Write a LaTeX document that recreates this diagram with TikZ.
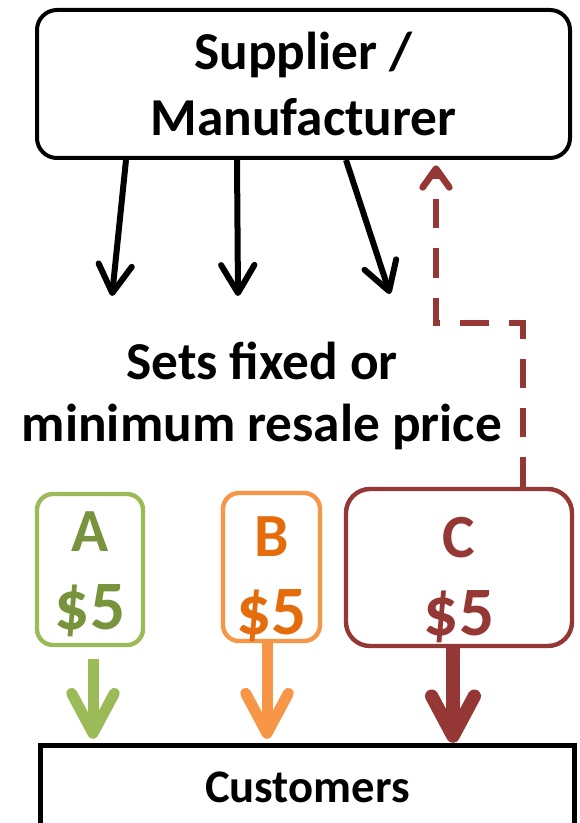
\documentclass[tikz,border=0pt]{standalone}
\usepackage{fontspec}
\setmainfont{Carlito}
\usetikzlibrary{arrows.meta,calc}
\definecolor{grnL}{HTML}{9BBB59}
\definecolor{grnT}{HTML}{77933C}
\definecolor{orgL}{HTML}{F79646}
\definecolor{orgT}{HTML}{E46C0A}
\definecolor{redC}{HTML}{953735}
\newcommand{\bigprice}{{\fontsize{52}{58.5}\selectfont\$5}}
\begin{document}
\begin{tikzpicture}[x=0.75pt,y=-0.75pt,
  supbox/.style={draw, line width=3pt, rounded corners=15pt, align=center, inner sep=0pt,
    font=\bfseries\fontsize{40}{50}\selectfont},
  midtext/.style={align=center, inner sep=0pt, font=\bfseries\fontsize{40}{47}\selectfont},
  pbox/.style={draw, line width=3.3pt, rounded corners=12pt, inner sep=0pt},
  ptext/.style={align=center, inner sep=0pt, font=\bfseries\fontsize{46}{58.5}\selectfont},
  custbox/.style={draw, line width=4pt, inner sep=0pt, font=\bfseries\fontsize{35}{42}\selectfont},
  blk/.style={line width=4.5pt, -{Straight Barb[length=21pt,width=25pt,round]}},
  dashr/.style={draw=redC, line width=5pt, dash pattern=on 22pt off 15pt,
    -{Straight Barb[length=14pt,width=20pt,round]}},
  colarr/.style={line width=8.25pt, -{Straight Barb[length=30pt,width=32pt,round]}}
]
\clip (0,0) rectangle (579,823);
\fill[white] (0,0) rectangle (579,823);

\node[supbox, minimum width=399.75pt, minimum height=111pt] (sup) at (303.5,84) {Supplier /\\Manufacturer};
\node[midtext] (txt) at (262,396) {Sets fixed or\\minimum resale price};
\node[pbox, draw=grnL, minimum width=79.5pt, minimum height=113.25pt] (A) at (90,569.5) {};
\node[pbox, draw=orgL, minimum width=72.75pt, minimum height=111pt] (B) at (271.5,567) {};
\node[pbox, draw=redC, rounded corners=18pt, minimum width=169.5pt, minimum height=117.75pt] (C) at (459,567.5) {};
\node[ptext, text=grnT] (At) at ($(A.center)+(0,5)$) {A\\\bigprice};
\node[ptext, text=orgT] (Bt) at ($(B.center)+(0,12.5)$) {B\\\bigprice};
\node[ptext, text=redC] (Ct) at ($(C.center)+(0,13)$) {C\\\bigprice};
\node[custbox, minimum width=400.5pt, minimum height=63.4pt] (cust) at (307.5,787.75) {Customers};

% black arrows from supplier
\coordinate (s1) at ($(sup.south west)+(91,0)$);
\coordinate (s2) at ($(sup.south west)+(202,0)$);
\coordinate (s3) at ($(sup.south west)+(311,0)$);
\coordinate (e1) at (112,296);
\coordinate (e2) at (238,296);
\coordinate (e3) at (390,294);
\draw[blk] (s1) -- (e1);
\draw[blk] (s2) -- (e2);
\draw[blk] (s3) -- (e3);

% dashed feedback arrow
\coordinate (d0) at ($(C.north)+(64,0)$);
\coordinate (d1) at (436,323);
\draw[dashr, shorten >=4pt] (d0) |- (d1) -- (d1 |- sup.south);

% coloured arrows to customers
\coordinate (a0) at ($(A.south)+(3,12)$);
\coordinate (b0) at ($(B.south)+(-4.5,0)$);
\coordinate (c0) at ($(C.south)+(-6,0)$);
\draw[colarr, draw=grnL, shorten >=3pt] (a0) -- (a0 |- cust.north);
\draw[colarr, draw=orgL, shorten >=3pt] (b0) -- (b0 |- cust.north);
\draw[colarr, draw=redC, line width=10pt] (c0) -- (c0 |- cust.north);
\end{tikzpicture}
\end{document}
